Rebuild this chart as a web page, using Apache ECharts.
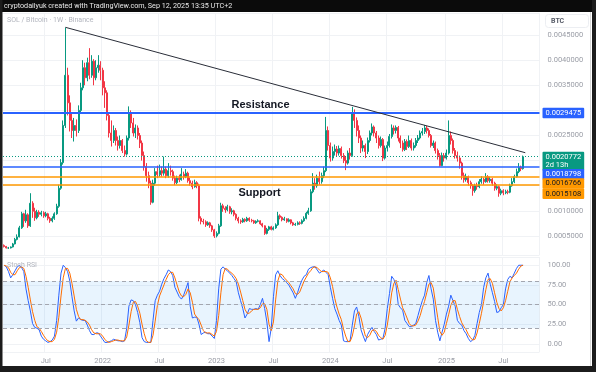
<!DOCTYPE html>
<html><head><meta charset="utf-8">
<script src="https://cdn.jsdelivr.net/npm/echarts@6/dist/echarts.min.js"></script>
<style>html,body{margin:0;padding:0;background:#1c1c1c;}#c{width:596px;height:372px;}</style>
</head><body><div id="c"></div>
<script>
// ---- data (prices in units of 0.0001 BTC) ----
const UNIT = 1e-4;
const startDate = '2021-02-22';       // first weekly candle
const slotCount = 245;                 // weekly slots on the time axis (incl. empty future space)
const firstOpen = 3.1;
const closes = [2.9,2.6,2.6,2.8,3.4,4.3,4.8,6.6,9.4,8.0,9.2,7.0,11.5,9.9,8.6,9.7,9.3,9.6,9.0,9.4,
8.5,8.0,8.5,9.4,10.9,14.5,19.6,27.0,37.0,31.5,28.0,26.0,27.0,26.0,30.0,34.5,38.5,36.5,39.5,37.0,
39.8,36.5,38.5,39.0,38.0,34.5,33.5,29.0,25.5,24.0,26.0,24.0,23.0,24.0,22.0,21.3,24.5,29.5,27.5,25.5,
26.5,25.0,23.5,21.0,18.8,17.0,15.5,11.7,15.5,17.8,17.2,18.0,17.5,18.3,17.0,18.0,17.8,16.5,15.6,16.5,
16.2,17.3,16.8,17.5,16.0,15.5,14.8,15.6,15.0,8.5,7.9,7.8,7.2,7.6,7.0,6.2,5.0,5.5,7.0,11.0,
10.5,10.2,10.8,9.8,10.0,9.3,8.5,8.0,7.8,8.3,8.0,8.5,8.1,8.0,7.6,7.9,8.0,7.4,7.0,5.5,
6.3,6.8,6.3,6.6,7.2,9.0,8.7,8.2,8.4,7.9,8.2,7.6,7.2,7.3,7.6,7.5,8.0,8.5,9.5,10.0,
13.8,15.5,15.0,16.5,15.8,17.0,18.0,26.0,23.0,20.5,21.8,22.3,21.5,22.4,21.0,20.0,19.5,21.5,21.0,29.4,
28.0,26.0,24.5,22.5,23.0,21.8,24.0,25.5,26.7,25.5,24.5,23.0,24.2,20.5,22.5,23.0,24.8,26.5,26.0,26.6,
24.5,23.5,22.2,23.8,22.8,24.0,22.5,23.0,24.0,24.5,25.5,25.8,26.5,26.0,25.0,23.0,23.5,22.0,21.0,19.0,
21.0,20.5,21.5,25.0,24.0,22.0,21.0,20.5,19.5,17.0,16.2,16.8,15.6,15.0,14.0,15.0,14.8,15.8,16.3,15.8,
16.8,16.0,16.3,15.5,14.5,14.8,13.5,14.0,13.6,13.8,13.7,15.0,15.8,16.8,17.8,18.6,18.4,20.772];
const highs = [3.3,3.0,2.8,2.9,3.6,4.6,5.3,7.0,9.8,9.6,10.2,9.5,13.5,11.9,10.6,10.2,10.1,10.0,9.9,9.8,
9.6,8.8,8.9,9.7,11.4,15.2,20.3,28.0,46.5,38.5,33.0,29.5,28.5,28.2,31.0,35.5,40.0,39.5,40.5,42.4,
41.0,40.2,40.0,41.0,39.8,38.5,35.8,34.0,29.5,28.0,27.0,26.5,24.8,25.0,24.3,23.0,25.0,30.8,30.0,28.5,
27.2,27.0,25.5,24.0,21.8,19.5,17.8,16.0,16.2,18.5,19.0,19.2,18.8,20.8,18.8,19.5,19.0,18.2,17.0,17.0,
17.2,18.5,17.8,18.3,17.8,16.6,16.0,16.2,15.9,15.4,8.9,8.4,8.1,7.9,7.8,7.2,6.4,5.9,7.4,11.6,
11.4,10.9,11.2,11.0,10.5,10.2,9.5,8.8,8.3,8.6,8.5,8.8,8.7,8.4,8.2,8.1,8.3,8.1,7.6,7.1,
6.6,7.0,7.0,6.9,7.5,9.8,9.3,8.9,8.8,8.5,8.5,8.3,7.8,7.6,7.9,7.9,8.3,8.9,9.8,10.6,
14.3,17.5,16.5,17.2,17.8,17.6,18.8,28.7,26.8,23.6,22.8,23.2,22.9,23.0,22.8,21.5,20.8,22.0,22.5,30.7,
30.2,28.6,27.0,25.0,24.0,23.4,24.6,26.0,27.4,27.0,25.9,25.0,24.8,24.5,23.0,23.8,25.3,27.2,27.0,27.0,
26.9,25.0,24.0,24.3,24.2,25.0,24.4,23.6,24.5,25.1,26.0,26.5,27.1,26.9,26.4,25.3,24.0,23.8,22.4,21.5,
21.6,21.5,22.2,28.0,25.8,24.4,22.5,21.8,21.0,19.8,17.6,17.4,17.0,16.0,15.3,15.4,15.6,16.3,16.9,16.6,
17.5,17.1,16.8,16.5,15.8,15.3,15.0,14.4,14.3,14.2,14.2,15.4,16.5,17.2,18.4,19.5,19.0,21.0];
const lows = [2.7,2.5,2.4,2.5,2.7,3.3,4.1,4.7,6.4,6.8,7.6,6.6,6.8,8.6,8.0,8.3,8.8,8.9,8.6,8.7,
8.1,7.6,7.7,8.2,9.2,10.6,14.2,19.2,26.5,29.0,25.8,24.5,23.8,24.8,25.5,29.5,34.0,35.0,35.8,36.2,
36.5,35.0,36.0,37.5,36.0,33.0,30.5,28.0,24.6,22.8,23.5,23.0,22.0,22.4,21.5,20.8,21.0,24.0,26.5,24.8,
24.5,24.2,22.5,20.0,18.0,15.8,14.5,11.2,11.5,15.0,16.5,16.8,16.8,17.0,16.5,16.6,17.0,16.0,15.1,15.3,
15.7,16.0,16.2,16.5,15.6,15.0,14.3,14.6,14.5,7.9,7.3,7.3,6.8,7.0,6.6,5.8,4.6,4.7,5.3,6.8,
9.8,9.6,9.9,9.4,9.3,8.9,8.1,7.5,7.4,7.6,7.7,7.8,7.8,7.7,7.4,7.4,7.7,7.2,6.7,5.2,
5.3,6.0,6.1,6.1,6.4,7.0,8.3,7.9,8.0,7.6,7.7,7.3,7.0,7.0,7.1,7.2,7.3,7.8,8.3,9.2,
9.8,13.5,14.2,14.6,15.2,15.4,16.5,17.7,22.0,19.8,20.0,21.0,20.8,21.0,20.4,19.5,18.1,19.2,20.2,20.8,
26.5,24.8,23.5,21.5,21.8,20.5,21.3,23.6,25.0,24.8,23.5,22.4,22.6,19.9,20.2,21.8,22.6,24.4,25.2,25.4,
23.8,22.5,21.8,21.9,22.1,22.5,22.0,22.0,22.6,23.5,24.2,25.0,25.3,25.4,24.6,22.6,22.5,21.4,20.2,18.8,
18.9,19.8,20.2,21.2,23.2,21.4,20.4,19.8,18.4,16.2,15.6,15.8,15.0,14.4,13.0,13.6,14.2,14.5,15.4,15.2,
15.6,15.6,15.6,15.0,14.0,14.1,12.8,13.1,13.1,13.3,13.3,13.5,14.8,15.5,16.6,17.5,17.9,18.2];
const stochK = [100,98,92,84,88,93,98,100,97,92,70,55,42,26,21,20,18,10,6,4,
2,3,5,10,30,62,90,100,97,92,80,60,42,29,33,31,30,30,24,17,
12,12,14,14,10,6,2,2,3,4,6,5,4,4,3,4,20,48,56,55,
50,40,27,8,3,2,2,2,30,55,62,67,76,83,88,94,92,87,72,66,
60,57,62,70,78,48,33,34,34,25,12,14,15,13,13,10,7,30,70,95,
98,95,93,90,87,83,79,65,55,45,33,38,45,44,44,45,44,50,58,45,
28,3,20,60,88,93,87,83,81,78,75,70,65,58,65,74,81,86,88,95,
97,98,98,94,90,92,94,91,88,72,58,45,38,30,24,4,3,3,4,24,
42,47,35,18,10,3,12,17,21,16,12,5,6,7,20,45,64,86,82,74,
50,46,43,30,26,22,22,24,26,36,46,55,62,78,87,70,57,30,15,4,
15,25,38,48,62,55,48,30,26,24,17,13,7,3,5,11,26,40,50,72,
84,90,76,65,54,40,41,46,50,70,82,86,84,90,96,100,100,100];
const stochD = [100,99,97,91,88,88,93,97,98,96,86,72,56,41,30,22,20,16,11,7,
4,3,3,6,15,34,61,84,96,96,90,77,61,44,35,31,31,30,28,24,
18,14,13,13,13,10,6,3,2,3,4,5,5,4,4,4,9,24,41,53,
54,48,39,25,13,4,2,2,11,29,49,61,68,75,82,88,91,91,84,75,
66,61,60,63,70,65,53,38,34,31,24,17,14,14,14,12,10,16,36,65,
88,96,95,92,90,87,83,76,66,55,44,39,39,42,44,44,44,46,51,51,
44,25,17,28,56,80,89,88,84,81,78,74,70,64,63,66,73,80,85,90,
93,97,98,97,94,92,92,92,91,84,73,58,47,38,31,19,10,3,3,10,
23,38,41,33,21,10,8,11,17,18,16,11,8,6,11,24,43,65,77,81,
69,57,46,40,33,26,23,23,24,29,36,46,54,65,76,78,71,52,34,16,
11,15,26,37,49,55,55,44,35,27,22,18,12,8,5,6,14,26,39,54,
69,82,83,77,65,53,45,42,46,55,67,79,84,87,90,95,99,100];
// horizontal levels drawn on the chart (BTC)
const resistanceLevel = 0.0029475;
const lastPrice = 0.0020772;
const blueLevel = 0.0018798;
const supportUpper = 0.0016766;
const supportLower = 0.0015108;
// descending trend line: [candle index, price]
const trendFrom = [28, 0.004655];
const trendTo = [238, 0.002157];
const countdown = '2d 13h';
const priceTickStep = 0.0005;
const rsiTickStep = 25;
const hiddenPriceTicks = [0.003, 0.002, 0.0015]; // covered by level labels
const rsiBands = [80, 50, 20];

// ---- build ----
const dates = [];
{ const d0 = new Date(startDate + 'T00:00:00Z');
  for (let i = 0; i < slotCount; i++) { const d = new Date(d0.getTime() + i * 7 * 864e5); dates.push(d.toISOString().slice(0, 10)); } }
const candles = closes.map((c, i) => {
  const o = i === 0 ? firstOpen : closes[i - 1];
  return [o * UNIT, c * UNIT, lows[i] * UNIT, highs[i] * UNIT];
});
const isLabelDate = (v) => { const m = v.slice(5, 7), d = +v.slice(8, 10); return (m === '01' || m === '07') && d <= 7; };
const fmtTime = (v) => v.slice(5, 7) === '01' ? v.slice(0, 4) : 'Jul';

const UP = '#089981', DOWN = '#f23645', BLUE = '#2962ff', ORANGE = '#ff9800';
const FONT = 'Roboto';
const axisTxt = { color: '#9a9da6', fontSize: 7.5, fontFamily: FONT };
const gridLine = { show: true, lineStyle: { color: '#f0f2f5', width: 1 } };

const levelLabel = (val, bg, fg, dy, extra) => ({
  show: true, position: 'end', distance: 3, formatter: extra ? val.toFixed(7) + '\n' + extra : val.toFixed(7),
  backgroundColor: bg, color: fg, fontSize: 7.5, fontFamily: FONT, padding: [1, 3, 1, 3], lineHeight: 8.5,
  offset: [0, dy], borderRadius: 1
});

const chart = echarts.init(document.getElementById('c'), null, { renderer: 'canvas' });
chart.setOption({
  backgroundColor: '#ffffff',
  animation: false,
  grid: [
    { left: 3, top: 13, width: 536.5, height: 242 },
    { left: 3, top: 257, width: 536.5, height: 95 }
  ],
  xAxis: [0, 1].map(g => ({
    type: 'category', gridIndex: g, data: dates, boundaryGap: true,
    axisLine: { show: false }, axisTick: { show: false },
    axisLabel: g === 1 ? { show: true, interval: (i, v) => isLabelDate(v), formatter: fmtTime, margin: 5, ...axisTxt } : { show: false },
    splitLine: { show: true, interval: (i, v) => isLabelDate(v), lineStyle: { color: '#f0f2f5', width: 1 } }
  })),
  yAxis: [
    { type: 'value', gridIndex: 0, position: 'right', min: 0.0001195, max: 0.00494, scale: true,
      minInterval: priceTickStep, maxInterval: priceTickStep, splitNumber: 10,
      axisLine: { show: false }, axisTick: { show: false }, splitLine: gridLine,
      axisLabel: { showMinLabel: false, showMaxLabel: false, margin: 8, ...axisTxt,
        formatter: v => hiddenPriceTicks.some(h => Math.abs(h - v) < 1e-9) ? '' : v.toFixed(7) } },
    { type: 'value', gridIndex: 1, position: 'right', min: -10.2, max: 110.5,
      minInterval: rsiTickStep, maxInterval: rsiTickStep, splitNumber: 5,
      axisLine: { show: false }, axisTick: { show: false }, splitLine: gridLine,
      axisLabel: { showMinLabel: false, showMaxLabel: false, margin: 8, ...axisTxt, formatter: v => v.toFixed(2) } }
  ],
  series: [
    { type: 'candlestick', xAxisIndex: 0, yAxisIndex: 0, data: candles, barWidth: 1.5,
      itemStyle: { color: UP, color0: DOWN, borderColor: UP, borderColor0: DOWN, borderWidth: 1 },
      markLine: { symbol: 'none', silent: true, animation: false, precision: 7,
        data: [
          { yAxis: resistanceLevel, lineStyle: { color: BLUE, width: 2, type: 'solid' }, label: levelLabel(resistanceLevel, BLUE, '#fff', 0) },
          { yAxis: lastPrice, lineStyle: { color: UP, width: 1, type: [1, 2] }, label: levelLabel(lastPrice, UP, '#fff', 4.5, countdown) },
          { yAxis: blueLevel, lineStyle: { color: BLUE, width: 1.5, type: 'solid' }, label: levelLabel(blueLevel, BLUE, '#fff', 7.5) },
          { yAxis: supportUpper, lineStyle: { color: ORANGE, width: 1.5, type: 'solid' }, label: levelLabel(supportUpper, ORANGE, '#131722', 6.7) },
          { yAxis: supportLower, lineStyle: { color: ORANGE, width: 1.5, type: 'solid' }, label: levelLabel(supportLower, ORANGE, '#131722', 8.5) },
          [ { coord: [dates[trendFrom[0]], trendFrom[1]], lineStyle: { color: '#2a2e39', width: 1, type: 'solid' }, label: { show: false } },
            { coord: [dates[trendTo[0]], trendTo[1]] } ]
        ] } },
    { type: 'line', xAxisIndex: 1, yAxisIndex: 1, data: stochK, showSymbol: false, symbol: 'none',
      lineStyle: { color: BLUE, width: 1 }, z: 3,
      markArea: { silent: true, itemStyle: { color: 'rgba(33,150,243,0.1)' }, data: [[{ yAxis: rsiBands[0] }, { yAxis: rsiBands[2] }]] },
      markLine: { symbol: 'none', silent: true, label: { show: false },
        lineStyle: { color: '#a3a6af', width: 1, type: [4, 3] }, data: rsiBands.map(b => ({ yAxis: b })) } },
    { type: 'line', xAxisIndex: 1, yAxisIndex: 1, data: stochD, showSymbol: false, symbol: 'none',
      lineStyle: { color: '#ff6d00', width: 1 }, z: 4 }
  ],
  graphic: [
    { type: 'rect', shape: { x: 0, y: 0, width: 596, height: 12 }, style: { fill: '#0b0b0b' }, z: 100 },
    { type: 'rect', shape: { x: 0, y: 0, width: 2.5, height: 372 }, style: { fill: '#1c1c1c' }, z: 100 },
    { type: 'rect', shape: { x: 592, y: 0, width: 4, height: 372 }, style: { fill: '#1c1c1c' }, z: 100 },
    { type: 'rect', shape: { x: 0, y: 366, width: 596, height: 6 }, style: { fill: '#1c1c1c' }, z: 100 },
    { type: 'line', shape: { x1: 590.5, y1: 12, x2: 590.5, y2: 366 }, style: { stroke: '#d8d8d8', lineWidth: 1 }, z: 99 },
    { type: 'text', x: 4, y: 6, style: { text: 'cryptodailyuk created with TradingView.com, Sep 12, 2025 13:35 UTC+2', fill: '#e8e8e8', font: '7.2px ' + FONT, verticalAlign: 'middle' }, z: 101 },
    { type: 'text', x: 7, y: 20, style: { text: 'SOL / Bitcoin · 1W · Binance', fill: '#b2b5be', font: '7px ' + FONT, verticalAlign: 'middle' }, z: 50 },
    { type: 'text', x: 7, y: 265, style: { text: 'Stoch RSI', fill: '#b2b5be', font: '7px ' + FONT, verticalAlign: 'middle' }, z: 50 },
    { type: 'rect', shape: { x: 545.5, y: 14.5, width: 43, height: 13, r: 3 }, style: { fill: '#fff', stroke: '#eceef2', lineWidth: 1 }, z: 50 },
    { type: 'text', x: 551, y: 21, style: { text: 'BTC', fill: '#555a66', font: 'bold 7px ' + FONT, verticalAlign: 'middle' }, z: 51 },
    { type: 'text', x: 260.5, y: 105, style: { text: 'Resistance', fill: '#131722', font: 'bold 11px "Liberation Sans"', align: 'center', verticalAlign: 'middle' }, z: 50 },
    { type: 'text', x: 259.5, y: 193, style: { text: 'Support', fill: '#131722', font: 'bold 11px "Liberation Sans"', align: 'center', verticalAlign: 'middle' }, z: 50 }
  ]
});
</script></body></html>
